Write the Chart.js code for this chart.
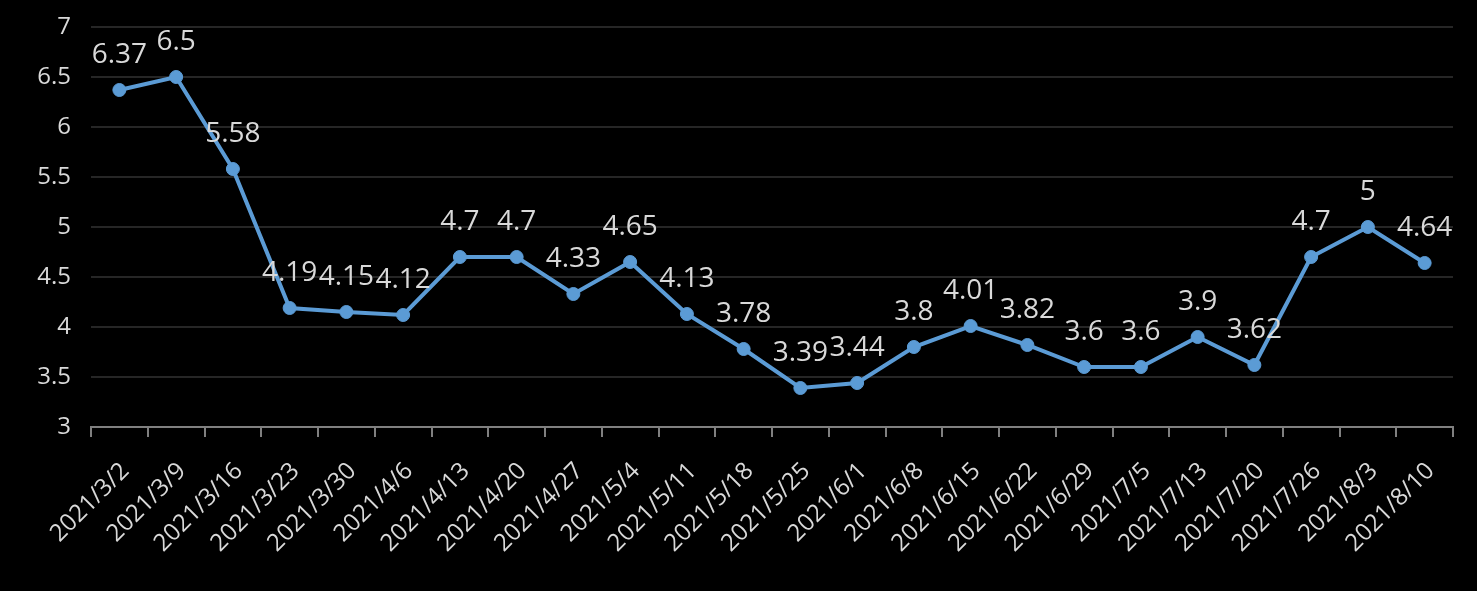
<!DOCTYPE html>
<html>
<head>
<meta charset="utf-8">
<script src="https://cdn.jsdelivr.net/npm/chart.js@4/dist/chart.umd.min.js"></script>
<style>
html,body{margin:0;padding:0;background:#000;}
#wrap{width:1477px;height:591px;}
</style>
</head>
<body>
<div id="wrap"><canvas id="c" width="1477" height="591"></canvas></div>
<script>
const categories = ["2021/3/2","2021/3/9","2021/3/16","2021/3/23","2021/3/30","2021/4/6","2021/4/13","2021/4/20","2021/4/27","2021/5/4","2021/5/11","2021/5/18","2021/5/25","2021/6/1","2021/6/8","2021/6/15","2021/6/22","2021/6/29","2021/7/5","2021/7/13","2021/7/20","2021/7/26","2021/8/3","2021/8/10"];
const values = [6.37,6.5,5.58,4.19,4.15,4.12,4.7,4.7,4.33,4.65,4.13,3.78,3.39,3.44,3.8,4.01,3.82,3.6,3.6,3.9,3.62,4.7,5,4.64];
const yTicks = [3,3.5,4,4.5,5,5.5,6,6.5,7];

const FONT = "'Open Sans', 'Noto Sans', sans-serif";
const TEXT = "#d9d9d9";

const labelPlugin = {
  id: 'valueLabels',
  afterDatasetsDraw(chart) {
    const ctx = chart.ctx;
    const meta = chart.getDatasetMeta(0);
    ctx.save();
    ctx.font = "28px " + FONT;
    ctx.fillStyle = TEXT;
    ctx.textAlign = 'center';
    ctx.textBaseline = 'alphabetic';
    meta.data.forEach((pt, i) => {
      ctx.fillText(String(values[i]), pt.x, pt.y - 27);
    });
    ctx.restore();
  }
};

new Chart(document.getElementById('c'), {
  type: 'line',
  data: {
    labels: categories,
    datasets: [{
      data: values,
      borderColor: '#5b9bd5',
      backgroundColor: '#5b9bd5',
      borderWidth: 4,
      pointRadius: 6.5,
      pointBackgroundColor: '#5b9bd5',
      pointBorderColor: '#5b9bd5',
      pointBorderWidth: 1,
      tension: 0,
      fill: false
    }]
  },
  options: {
    responsive: false,
    animation: false,
    devicePixelRatio: 1,
    layout: { padding: { top: 27, right: 24, left: 0, bottom: 0 } },
    plugins: { legend: { display: false }, tooltip: { enabled: false } },
    scales: {
      x: {
        type: 'category',
        offset: true,
        grid: {
          display: true,
          drawOnChartArea: false,
          drawTicks: true,
          tickLength: 10,
          color: '#808080',
          lineWidth: 2,
          offset: true
        },
        border: { display: true, color: '#808080', width: 2 },
        ticks: {
          color: TEXT,
          font: { family: FONT, size: 24 },
          minRotation: 45,
          maxRotation: 45,
          autoSkip: false,
          padding: 20,
          labelOffset: 6
        },
        afterFit(s) { s.height = 164; }
      },
      y: {
        min: 3,
        max: 7,
        afterBuildTicks(s) { s.ticks = yTicks.map(v => ({ value: v })); },
        grid: { color: '#262626', lineWidth: 2, drawTicks: true, tickLength: 12, tickColor: 'rgba(0,0,0,0)' },
        border: { display: false },
        ticks: {
          color: TEXT,
          font: { family: FONT, size: 24 },
          padding: 8,
          callback: v => String(v)
        },
        afterFit(s) { s.width = 91; }
      }
    }
  },
  plugins: [labelPlugin]
});
</script>
</body>
</html>
